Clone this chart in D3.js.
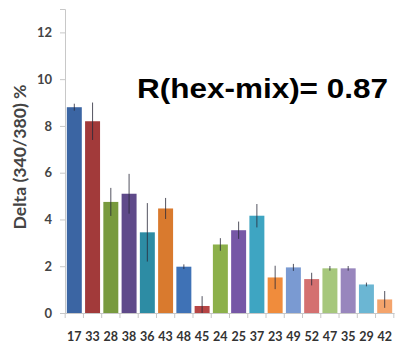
<!DOCTYPE html>
<html><head><meta charset="utf-8">
<script src="https://cdn.jsdelivr.net/npm/d3@7"></script>
<style>html,body{margin:0;padding:0;background:#fff;}</style>
</head><body>
<div id="chart"></div>
<script>
const categories = ["17","33","28","38","36","43","48","45","24","25","37","23","49","52","47","35","29","42"];
const values = [8.8, 8.2, 4.75, 5.1, 3.45, 4.47, 1.98, 0.3, 2.93, 3.54, 4.16, 1.52, 1.95, 1.45, 1.91, 1.91, 1.22, 0.58];
const errors = [0.15, 0.8, 0.6, 0.85, 1.25, 0.45, 0.1, 0.42, 0.27, 0.37, 0.5, 0.5, 0.15, 0.27, 0.1, 0.1, 0.08, 0.36];
const colors = ["#3b65a3","#a23a3a","#789a3e","#5f4a8a","#2d8ca4","#d97a2e","#3f72b6","#b64545","#8cb04a","#7657a6","#3ea5c2","#f08c3c","#7a9ad2","#d47070","#a6c77c","#9886bd","#6bb6d3","#f4a46c"];
const yTicks = [0, 2, 4, 6, 8, 10, 12];
const title = "R(hex-mix)= 0.87";
const yLabel = "Delta  (340/380) %";

const W = 395, H = 349;
const svg = d3.select("#chart").append("svg").attr("width", W).attr("height", H);
const x = d3.scaleBand().domain(categories).range([65, 394]).paddingInner(0.18).paddingOuter(0.1);
const y = d3.scaleLinear().domain([0, 13]).range([313, 9]);

// y axis
const ya = svg.append("g").attr("transform", "translate(65,0)")
  .call(d3.axisLeft(y).tickValues(yTicks).tickSize(5).tickPadding(8));
ya.select(".domain").attr("stroke", "#c8c8c8");
ya.selectAll(".tick line").attr("stroke", "#c8c8c8");
ya.selectAll(".tick text").attr("fill", "#444").style("font-family", "Lato, 'Open Sans', sans-serif").style("font-size", "13px").style("font-weight", "bold");

// bars
svg.append("g").selectAll("rect").data(categories).join("rect")
  .attr("x", d => x(d)).attr("width", x.bandwidth())
  .attr("y", (d, i) => y(values[i])).attr("height", (d, i) => y(0) - y(values[i]))
  .attr("fill", (d, i) => colors[i]);

// error bars
svg.append("g").selectAll("line").data(categories).join("line")
  .attr("x1", d => x(d) + x.bandwidth() / 2).attr("x2", d => x(d) + x.bandwidth() / 2)
  .attr("y1", (d, i) => y(values[i] + errors[i])).attr("y2", (d, i) => y(Math.max(0, values[i] - errors[i])))
  .attr("stroke", "#2a2a3a").attr("stroke-width", 1).attr("opacity", 0.8);

// x axis
const xa = svg.append("g").attr("transform", "translate(0,313)")
  .call(d3.axisBottom(x).tickSize(0).tickPadding(19));
xa.select(".domain").attr("stroke", "#c8c8c8");
xa.selectAll(".tick text").attr("fill", "#333").style("font-family", "Lato, 'Open Sans', sans-serif").style("font-size", "12.5px").style("font-weight", "bold");
// boundary tick marks
const step = x.step();
const bounds = categories.map(c => x(c) - x.paddingInner() * step / 2).concat([x(categories[categories.length - 1]) + x.bandwidth() + x.paddingInner() * step / 2]);
svg.append("g").selectAll("line").data(bounds).join("line")
  .attr("x1", d => d).attr("x2", d => d).attr("y1", 313).attr("y2", 318)
  .attr("stroke", "#c8c8c8");

// y label
svg.append("text").attr("transform", "translate(26,157) rotate(-90)")
  .attr("text-anchor", "middle").attr("fill", "#444")
  .attr("textLength", 145).attr("lengthAdjust", "spacingAndGlyphs")
  .style("font-family", "Lato, 'Open Sans', sans-serif").style("font-size", "17px").style("font-weight", "bold")
  .text(yLabel);

// title
svg.append("text").attr("x", 137).attr("y", 98)
  .attr("fill", "#000")
  .attr("textLength", 251).attr("lengthAdjust", "spacingAndGlyphs")
  .style("font-family", "'Liberation Sans', Arial, sans-serif").style("font-size", "28px").style("font-weight", "bold")
  .text(title);
</script>
</body></html>
